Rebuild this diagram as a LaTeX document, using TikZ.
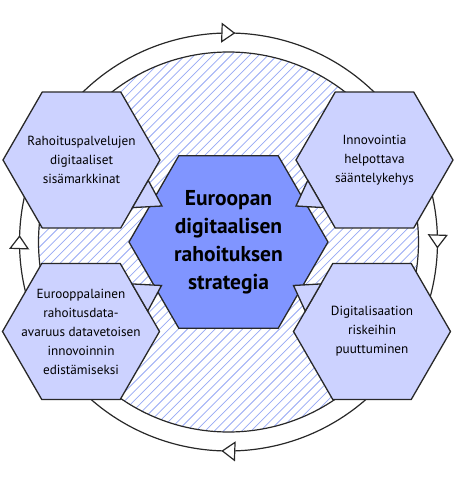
\documentclass[tikz,border=0pt]{standalone}
\usepackage{fontspec}
\setmainfont{PT Sans}
\usetikzlibrary{shapes.geometric,calc,arrows.meta,decorations.markings}
\definecolor{hexFill}{RGB}{204,210,255}
\definecolor{coreFill}{RGB}{128,149,255}
\definecolor{hatchBlue}{RGB}{150,168,245}
\definecolor{lineGray}{RGB}{40,40,40}
\tikzset{ringTip/.tip={Triangle[fill=white,length=14pt,width=20pt]}}

\begin{document}
\begin{tikzpicture}[x=1pt,y=1pt,
                    ringND/.style={draw=lineGray,
                                   line width=1.2pt,
                                   postaction={decorate},
                                   decoration={markings,
                                     mark=at position 171pt with {\arrow{ringTip}},
                                     mark=at position 499pt with {\arrow{ringTip}},
                                     mark=at position 828pt with {\arrow{ringTip}},
                                     mark=at position 1156pt with {\arrow{ringTip}}}},
                    hatchND/.style={draw=hatchBlue, line width=0.75pt},
                    hexND/.style={regular polygon,
                                  regular polygon sides=6,
                                  minimum size=157pt,
                                  inner sep=0pt,
                                  outer sep=0pt,
                                  draw=lineGray,
                                  line width=1.3pt,
                                  fill=hexFill},
                    coreND/.style={hexND, minimum size=199pt, fill=coreFill},
                    tailND/.style={draw=lineGray, line width=1.3pt, fill=hexFill},
                    hexTXT/.style={align=center, font=\fontsize{13.2}{19}\selectfont},
                    coreTXT/.style={align=center, font=\fontsize{21.5}{28}\selectfont\bfseries}]
    \path[use as bounding box, fill=white] (-228.5,-241) rectangle (229.5,242);
    \draw[ringND] (135:209) arc[start angle=135, end angle=-225, radius=209];
    \begin{scope}
        \clip (0,0) circle[radius=190];
        \foreach \c in {-414,-404.8,...,414}
            \draw[hatchND] (\c-200,-200) -- (\c+200,200);
    \end{scope}
    \draw[draw=lineGray, line width=1.2pt] (0,0) circle[radius=190];

    \node[coreND](core) at (0,0) {};
    \node[hexND](tl) at (-147,82)    {};
    \node[hexND](tr) at (146,82)     {};
    \node[hexND](bl) at (-147.5,-89.5) {};
    \node[hexND](br) at (143.5,-89.5)  {};

    \foreach \hx/\va/\vb/\dx/\dy in {tl/0/300/2/-46, bl/0/60/2/46, tr/180/240/0/-46, br/180/120/0/46}
        \draw[tailND] ($(\hx.\va)!0.3!(\hx.\vb)$) -- ($(\hx.\va)+(\dx,\dy)$) -- ($(\hx.\va)!0.7!(\hx.\vb)$) -- cycle;

    \node[coreTXT](core-t) at (core) {Euroopan\\digitaalisen\\rahoituksen\\strategia};
    \node[hexTXT](tl-t) at (tl) {Rahoituspalvelujen\\digitaaliset\\sisämarkkinat};
    \node[hexTXT](tr-t) at (tr) {Innovointia\\helpottava\\sääntelykehys};
    \node[hexTXT](bl-t) at (bl) {Eurooppalainen\\rahoitusdata-\\avaruus datavetoisen\\innovoinnin\\edistämiseksi};
    \node[hexTXT](br-t) at (br) {Digitalisaation\\riskeihin\\puuttuminen};
\end{tikzpicture}
\end{document}
